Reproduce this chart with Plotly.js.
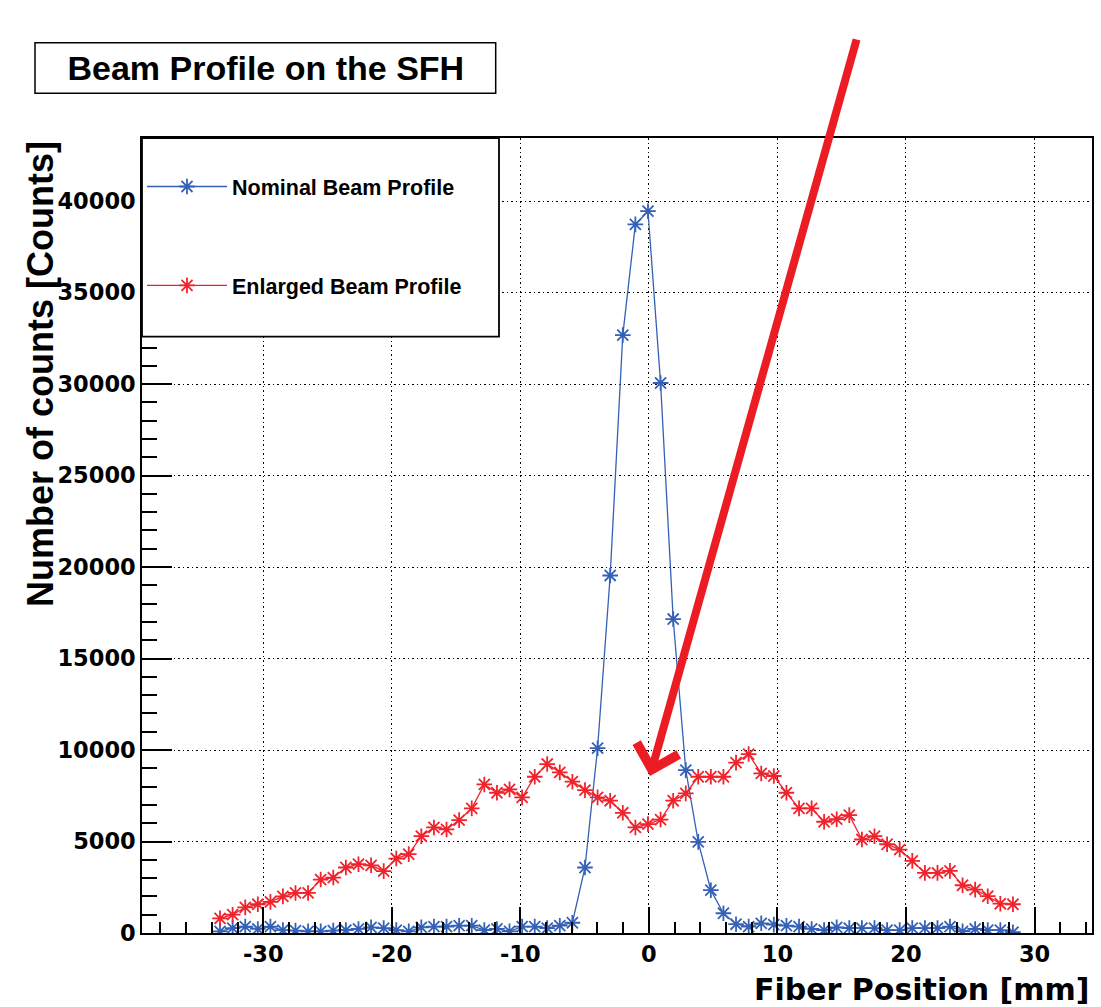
<!DOCTYPE html>
<html><head><meta charset="utf-8">
<script src="https://cdn.plot.ly/plotly-3.0.1.min.js"></script>
<style>html,body{margin:0;padding:0;background:#fff}#chart{width:1101px;height:1007px}</style>
</head><body><div id="chart"></div>
<script>
// Fiber positions [mm] (64 fibers)
const fiberPosition = [-33.36,-32.38,-31.40,-30.42,-29.44,-28.47,-27.49,-26.51,-25.53,-24.55,-23.57,-22.59,-21.61,-20.63,-19.65,-18.68,
  -17.70,-16.72,-15.74,-14.76,-13.78,-12.80,-11.82,-10.84,-9.86,-8.88,-7.91,-6.93,-5.95,-4.97,-3.99,-3.01,
  -2.03,-1.05,-0.07,0.91,1.89,2.87,3.84,4.82,5.80,6.78,7.76,8.74,9.72,10.70,11.68,12.66,
  13.63,14.61,15.59,16.57,17.55,18.53,19.51,20.49,21.47,22.45,23.42,24.40,25.38,26.36,27.34,28.32];
const nominalCounts = [90,270,350,220,350,160,130,90,90,130,160,220,310,270,160,90,
  310,350,350,400,400,160,220,90,350,350,270,400,560,3580,10100,19540,
  32680,38730,39450,30060,17160,8900,4980,2340,1080,480,350,530,460,400,350,220,
  160,310,270,270,270,160,160,270,270,270,350,90,220,160,160,40];
const enlargedCounts = [800,1000,1400,1570,1700,2000,2190,2190,2920,3030,3580,3760,3700,3380,4070,4310,
  5290,5770,5660,6170,6810,8120,7665,7850,7410,8540,9235,8780,8270,7810,7410,7230,
  6570,5770,5950,6200,7230,7630,8540,8540,8540,9310,9780,8720,8580,7665,6810,6810,
  6080,6220,6440,5110,5290,4850,4560,3940,3285,3285,3395,2610,2370,2010,1600,1570];
const seriesNames = ['Nominal Beam Profile','Enlarged Beam Profile'];
const xTickVals = [-30,-20,-10,0,10,20,30];
const xTickText = ['-30','-20','-10','0','10','20','30'];
const chartTitle = 'Beam Profile on the SFH';
const xTitle = 'Fiber Position [mm]';
const yTitle = 'Number of counts [Counts]';

const blue = '#3461b6';
const red = '#f0232d';
const tickFont = {family: 'DejaVu Sans, sans-serif', size: 22.5, color: '#000', weight: 'bold'};
const textFont = {family: 'Liberation Sans, Arial, sans-serif', color: '#000', weight: 'bold'};

function trace(y, name, color, grp) {
  return {
    x: fiberPosition, y: y, name: name, type: 'scatter', mode: 'lines+markers',
    legendgroup: grp,
    line: {color: color, width: 1.3},
    marker: {symbol: 'asterisk-open', size: 13, color: color, line: {color: color, width: 1.8}}
  };
}
const data = [trace(nominalCounts, seriesNames[0], blue, 'a'), trace(enlargedCounts, seriesNames[1], red, 'b')];

const W = 1101, H = 1007, L = 142, R = 9, T = 138, B = 74;
const pw = W - L - R, ph = H - T - B;
const px = v => (v - L) / pw;
const py = v => (H - B - v) / ph;
const gridDash = '1.5px,3px';

const layout = {
  width: W, height: H,
  margin: {l: L, r: R, t: T, b: B},
  paper_bgcolor: '#fff', plot_bgcolor: '#fff',
  showlegend: true,
  title: {text: chartTitle, font: Object.assign({}, textFont, {size: 34}),
    x: 265.8 / W, xanchor: 'center', xref: 'container', y: 1 - 68 / H, yanchor: 'middle', yref: 'container'},
  xaxis: {
    range: [-39.43, 34.47], tickmode: 'array', tickvals: xTickVals, ticktext: xTickText,
    ticks: 'inside', ticklen: 26, tickwidth: 1.5, tickcolor: '#000',
    showline: true, linecolor: '#000', linewidth: 1.5, mirror: true,
    showgrid: true, gridcolor: '#000', griddash: gridDash, gridwidth: 1,
    zeroline: false, tickfont: tickFont, ticklabelstandoff: 0,
    minor: {tickmode: 'linear', tick0: 0, dtick: 2, ticks: 'inside', ticklen: 11, tickwidth: 1.5, tickcolor: '#000', showgrid: false}
  },
  yaxis: {
    range: [0, 43450], tickmode: 'linear', tick0: 0, dtick: 5000, tickformat: 'd',
    ticks: 'inside', ticklen: 30, tickwidth: 1.5, tickcolor: '#000',
    showline: true, linecolor: '#000', linewidth: 1.5, mirror: true,
    showgrid: true, gridcolor: '#000', griddash: gridDash, gridwidth: 1,
    zeroline: false, tickfont: tickFont, ticklabelstandoff: 0,
    minor: {tickmode: 'linear', tick0: 0, dtick: 1000, ticks: 'inside', ticklen: 15, tickwidth: 1.5, tickcolor: '#000', showgrid: false}
  },
  legend: {
    x: 0, xanchor: 'left', y: py(166), yanchor: 'top', bgcolor: 'rgba(0,0,0,0)', borderwidth: 0,
    font: Object.assign({}, textFont, {size: 21.5}), itemwidth: 80, tracegroupgap: 68, traceorder: 'grouped'
  },
  shapes: [
    {type: 'rect', xref: 'paper', yref: 'paper', x0: px(35), x1: px(495.7), y0: py(93.3), y1: py(42.7),
      line: {color: '#000', width: 1.5}, fillcolor: 'rgba(0,0,0,0)', layer: 'above'},
    {type: 'rect', xref: 'paper', yref: 'paper', x0: 0, x1: px(499), y0: py(336.7), y1: 1,
      line: {color: '#000', width: 1.8}, fillcolor: '#fff', layer: 'above'}
  ],
  annotations: [
    {text: xTitle, xref: 'paper', yref: 'paper', x: 1, xanchor: 'right', y: py(989), yanchor: 'middle',
      showarrow: false, font: {family: 'DejaVu Sans, sans-serif', size: 30, color: '#000', weight: 'bold'}},
    {text: yTitle, xref: 'paper', yref: 'paper', x: px(40), xanchor: 'center', y: py(139), yanchor: 'top',
      textangle: -90, showarrow: false, font: Object.assign({}, textFont, {size: 36})},
    {text: '', xref: 'paper', yref: 'paper', x: px(650), y: py(776), showarrow: true,
      ax: 857 - 650, ay: 38 - 776, axref: 'pixel', ayref: 'pixel',
      arrowhead: 4, arrowsize: 1.05, arrowwidth: 8, arrowcolor: '#ec1c24'}
  ]
};

Plotly.newPlot('chart', data, layout, {displayModeBar: false, responsive: false});
</script>
</body></html>
